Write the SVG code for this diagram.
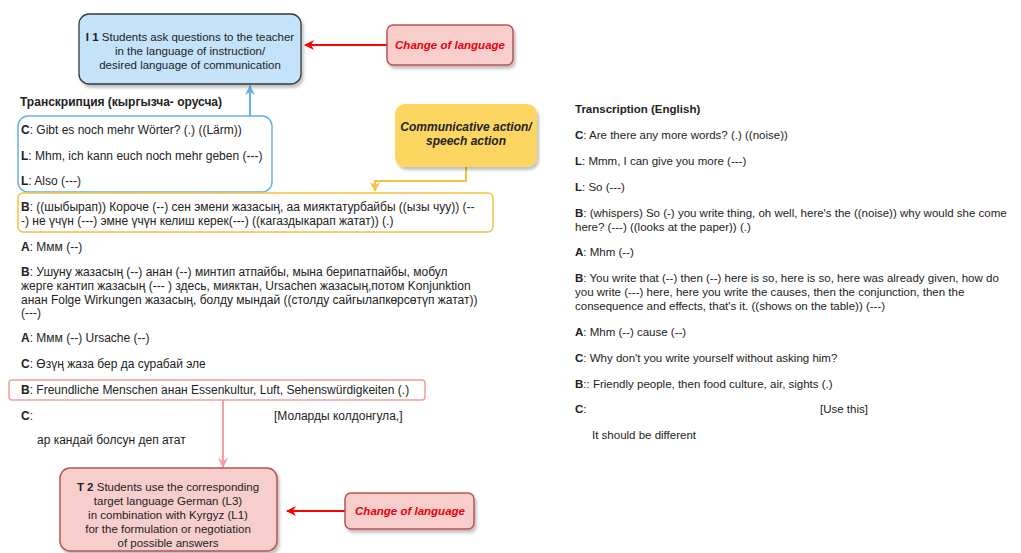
<svg xmlns="http://www.w3.org/2000/svg" width="1021" height="553" viewBox="0 0 1021 553">
<defs>
<filter id="sh" x="-10%" y="-10%" width="130%" height="140%"><feDropShadow dx="2" dy="3" stdDeviation="1.5" flood-color="#000" flood-opacity="0.25"/></filter>
<marker id="ar" viewBox="0 0 10 10" refX="9" refY="5" markerWidth="5" markerHeight="5" orient="auto"><path d="M0,0 L10,5 L0,10 L3,5 z" fill="#ff0000"/></marker>
<marker id="ab" viewBox="0 0 10 10" refX="9" refY="5" markerWidth="5" markerHeight="5" orient="auto"><path d="M0,0 L10,5 L0,10 L3,5 z" fill="#66b2e6"/></marker>
<marker id="ay" viewBox="0 0 10 10" refX="9" refY="5" markerWidth="5" markerHeight="5" orient="auto"><path d="M0,0 L10,5 L0,10 L3,5 z" fill="#f5c242"/></marker>
<marker id="ap" viewBox="0 0 10 10" refX="9" refY="5" markerWidth="5" markerHeight="5" orient="auto"><path d="M0,0 L10,5 L0,10 L3,5 z" fill="#f4a09c"/></marker>
</defs>
<style>
text{font-family:"Liberation Sans",Arial,sans-serif;font-size:11px;fill:#222}
#transcript-kg text{font-size:12px}
#transcript-en text{font-size:11.5px}
.c{text-anchor:middle;font-size:11.5px}
.b{font-weight:bold}
#transcript-kg .h{font-weight:bold;font-size:12px}
#transcript-en .h{font-weight:bold;font-size:11.5px}
.lang{font-weight:bold;font-style:italic;fill:#e8000d;text-anchor:middle;font-size:11.5px}
.ca{font-weight:bold;font-style:italic;text-anchor:middle;font-size:12px}
.red{fill:#f8cecc;stroke:#b85450;stroke-width:1.5}
</style>
<rect width="1021" height="553" fill="#fff"/>
<g id="connectors" fill="none" stroke-width="2">
<line x1="387" y1="45" x2="305" y2="45" stroke="#ff0000" marker-end="url(#ar)"/>
<line x1="345" y1="511" x2="287" y2="511" stroke="#ff0000" marker-end="url(#ar)"/>
<line x1="250" y1="116" x2="250" y2="86" stroke="#66b2e6" marker-end="url(#ab)"/>
<polyline points="466,166 466,181 375,181 375,191" stroke="#f5c242" marker-end="url(#ay)"/>
<line x1="223" y1="400" x2="223" y2="467" stroke="#f4a09c" marker-end="url(#ap)"/>
</g>
<g id="node-i1">
<rect x="79" y="14" width="222" height="70" rx="10" fill="#c4e2fa" stroke="#36393d" stroke-width="1.3" filter="url(#sh)"/>
<text class="c" x="190" y="41"><tspan class="b">I 1</tspan> Students ask questions to the teacher</text>
<text class="c" x="190" y="55">in the language of instruction/</text>
<text class="c" x="190" y="69">desired language of communication</text>
</g>
<g id="node-change1">
<rect x="387" y="25" width="126" height="40" rx="6" class="red" filter="url(#sh)"/>
<text class="lang" x="450" y="49">Change of language</text>
</g>
<g id="node-comm">
<rect x="395" y="104" width="142" height="63" rx="10" fill="#fcd660" filter="url(#sh)"/>
<text class="ca" x="466" y="131">Communicative action/</text>
<text class="ca" x="466" y="145">speech action</text>
</g>
<g id="node-blue-bracket">
<rect x="18" y="116" width="254" height="76" rx="10" fill="none" stroke="#66b2e6" stroke-width="1.5"/>
</g>
<g id="node-yellow-bracket">
<rect x="18" y="193" width="475" height="39" rx="5" fill="none" stroke="#f5c242" stroke-width="1.5"/>
</g>
<g id="node-red-bracket">
<rect x="9" y="380" width="416" height="20" rx="3" fill="none" stroke="#f4a09c" stroke-width="1.5"/>
</g>
<g id="node-t2">
<rect x="60" y="468" width="217" height="83" rx="10" class="red" stroke="#36393d" filter="url(#sh)"/>
<text class="c" x="168" y="491"><tspan class="b">T 2</tspan> Students use the corresponding</text>
<text class="c" x="168" y="505">target language German (L3)</text>
<text class="c" x="168" y="519">in combination with Kyrgyz (L1)</text>
<text class="c" x="168" y="533">for the formulation or negotiation</text>
<text class="c" x="168" y="547">of possible answers</text>
</g>
<g id="node-change2">
<rect x="345" y="493" width="129" height="36" rx="6" class="red" filter="url(#sh)"/>
<text class="lang" x="410" y="515">Change of language</text>
</g>
<g id="transcript-kg">
<text class="h" x="20" y="106">Транскрипция (кыргызча- орусча)</text>
<text x="21" y="134"><tspan class="b">C</tspan>: Gibt es noch mehr Wörter? (.) ((Lärm))</text>
<text x="21" y="160"><tspan class="b">L</tspan>: Mhm, ich kann euch noch mehr geben (---)</text>
<text x="21" y="185"><tspan class="b">L</tspan>: Also (---)</text>
<text x="21" y="211"><tspan class="b">B</tspan>: ((шыбырап)) Короче (--) сен эмени жазасың, аа мияктатурбайбы ((ызы чуу)) (--</text>
<text x="21" y="225">-) не үчүн (---) эмне үчүн келиш керек(---) ((кагаздыкарап жатат)) (.)</text>
<text x="21" y="251"><tspan class="b">A</tspan>: Ммм (--)</text>
<text x="21" y="276"><tspan class="b">B</tspan>: Ушуну жазасың (--) анан (--) минтип атпайбы, мына берипатпайбы, мобул</text>
<text x="21" y="290">жерге кантип жазасың (--- ) здесь, мияктан, Ursachen жазасың,потом Konjunktion</text>
<text x="21" y="304">анан Folge Wirkungen жазасың, болду мындай ((столду сайгылапкөрсөтүп жатат))</text>
<text x="21" y="317">(---)</text>
<text x="21" y="342"><tspan class="b">A</tspan>: Ммм (--) Ursache (--)</text>
<text x="21" y="368"><tspan class="b">C</tspan>: Өзүң жаза бер да сурабай эле</text>
<text x="21" y="394"><tspan class="b">B</tspan>: Freundliche Menschen анан Essenkultur, Luft, Sehenswürdigkeiten (.)</text>
<text x="21" y="420"><tspan class="b">C</tspan>:</text>
<text x="274" y="420">[Моларды колдонгула,]</text>
<text x="37" y="444">ар кандай болсун деп атат</text>
</g>
<g id="transcript-en">
<text class="h" x="575" y="113">Transcription (English)</text>
<text x="575" y="139"><tspan class="b">C</tspan>: Are there any more words? (.) ((noise))</text>
<text x="575" y="165"><tspan class="b">L</tspan>: Mmm, I can give you more (---)</text>
<text x="575" y="191"><tspan class="b">L</tspan>: So (---)</text>
<text x="575" y="217"><tspan class="b">B</tspan>: (whispers) So (-) you write thing, oh well, here's the ((noise)) why would she come</text>
<text x="575" y="231">here? (---) ((looks at the paper)) (.)</text>
<text x="575" y="256"><tspan class="b">A</tspan>: Mhm (--)</text>
<text x="575" y="282"><tspan class="b">B</tspan>: You write that (--) then (--) here is so, here is so, here was already given, how do</text>
<text x="575" y="296">you write (---) here, here you write the causes, then the conjunction, then the</text>
<text x="575" y="310">consequence and effects, that's it. ((shows on the table)) (---)</text>
<text x="575" y="336"><tspan class="b">A</tspan>: Mhm (--) cause (--)</text>
<text x="575" y="362"><tspan class="b">C</tspan>: Why don't you write yourself without asking him?</text>
<text x="575" y="388"><tspan class="b">B</tspan>:: Friendly people, then food culture, air, sights (.)</text>
<text x="575" y="413"><tspan class="b">C</tspan>:</text>
<text x="820" y="413">[Use this]</text>
<text x="592" y="439">It should be different</text>
</g>
</svg>
